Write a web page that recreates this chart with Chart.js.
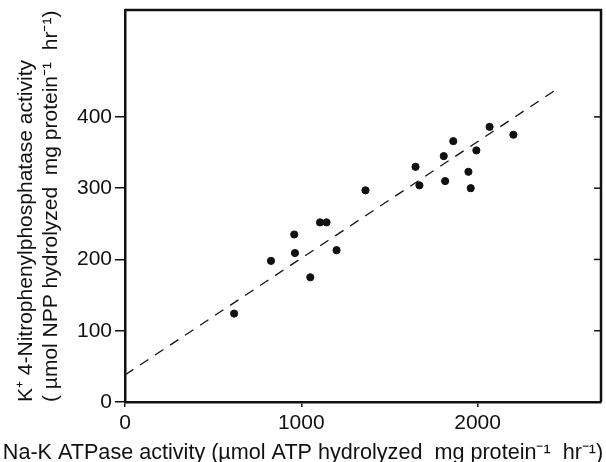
<!DOCTYPE html>
<html>
<head>
<meta charset="utf-8">
<script src="https://cdn.jsdelivr.net/npm/chart.js@4"></script>
<style>
  html, body { margin: 0; padding: 0; background: #fff; }
  #wrap { width: 606px; height: 462px; }
</style>
</head>
<body>
<div id="wrap"><canvas id="chart" width="606" height="462"></canvas></div>
<script>
// values
const atpase = [619, 828, 960, 964, 1051, 1106, 1143, 1200, 1364, 1648, 1670, 1808, 1816, 1862, 1948, 1961, 1993, 2068, 2203];
const npp = [124, 198, 235, 209, 175, 252, 252, 213, 297, 330, 304, 345, 310, 366, 323, 300, 353, 386, 375];
const fitX = [0, 2444];
const fitY = [38, 438];
const xTicks = [0, 1000, 2000];
const yTicks = [0, 100, 200, 300, 400];
const xTitle = 'Na-K ATPase activity (µmol ATP hydrolyzed  mg protein⁻¹  hr⁻¹)';
const yTitle = ['K⁺ 4-Nitrophenylphosphatase activity', '( µmol NPP hydrolyzed  mg protein⁻¹  hr⁻¹)'];

const INK = '#111';
const FONT = "'Liberation Sans', Arial, sans-serif";

// top + right border with inward ticks, and the x title (it runs under the y title, so not centred on the plot)
const framePlugin = {
  id: 'frame',
  afterDraw(chart) {
    const { ctx, chartArea: a, scales } = chart;
    ctx.save();
    ctx.strokeStyle = INK;
    ctx.lineWidth = 2.5;
    ctx.beginPath();
    ctx.moveTo(a.left, a.top);
    ctx.lineTo(a.right, a.top);
    ctx.lineTo(a.right, a.bottom);
    ctx.stroke();
    ctx.lineWidth = 1.5;
    yTicks.forEach(v => {
      if (v === 0) return;
      const py = scales.y.getPixelForValue(v);
      ctx.beginPath();
      ctx.moveTo(a.right, py);
      ctx.lineTo(a.right - 7, py);
      ctx.stroke();
    });

    ctx.fillStyle = INK;
    ctx.font = '21.6px ' + FONT;
    ctx.textAlign = 'center';
    ctx.textBaseline = 'middle';
    ctx.fillText(xTitle, chart.width / 2, 453);
    ctx.restore();
  }
};

new Chart(document.getElementById('chart'), {
  type: 'scatter',
  data: {
    datasets: [
      {
        data: atpase.map((x, i) => ({ x, y: npp[i] })),
        backgroundColor: INK,
        borderColor: INK,
        pointRadius: 3.6,
      },
      {
        type: 'line',
        data: fitX.map((x, i) => ({ x, y: fitY[i] })),
        borderColor: INK,
        borderWidth: 1.3,
        borderDash: [10, 8],
        pointRadius: 0,
        fill: false,
      },
    ],
  },
  plugins: [framePlugin],
  options: {
    responsive: false,
    animation: false,
    layout: { padding: { top: 10, right: 3, left: 0, bottom: 0 } },
    plugins: { legend: { display: false }, tooltip: { enabled: false } },
    scales: {
      x: {
        type: 'linear',
        min: 0,
        max: 2700,
        afterBuildTicks: s => { s.ticks = xTicks.map(v => ({ value: v })); },
        afterFit: s => { s.height = 60; s.paddingLeft = 0; s.paddingRight = 0; },
        border: { display: true, color: INK, width: 2.5 },
        grid: { drawOnChartArea: false, drawTicks: true, tickLength: 5, color: INK, lineWidth: 1.5 },
        ticks: { color: INK, font: { family: FONT, size: 21 }, padding: 4, maxRotation: 0, callback: v => String(v) },
      },
      y: {
        type: 'linear',
        min: 0,
        max: 550,
        afterBuildTicks: s => { s.ticks = yTicks.map(v => ({ value: v })); },
        afterFit: s => { s.width = 125; s.paddingTop = 0; s.paddingBottom = 0; },
        border: { display: true, color: INK, width: 2.5 },
        grid: { drawOnChartArea: false, drawTicks: true, tickLength: 10, color: INK, lineWidth: 1.5 },
        ticks: { color: INK, font: { family: FONT, size: 21 }, padding: 3 },
        title: {
          display: true,
          align: 'start',
          text: yTitle,
          color: INK,
          font: { family: FONT, size: 21, lineHeight: 1.19 },
          padding: { top: 14, bottom: 0 },
        },
      },
    },
  },
});
</script>
</body>
</html>
